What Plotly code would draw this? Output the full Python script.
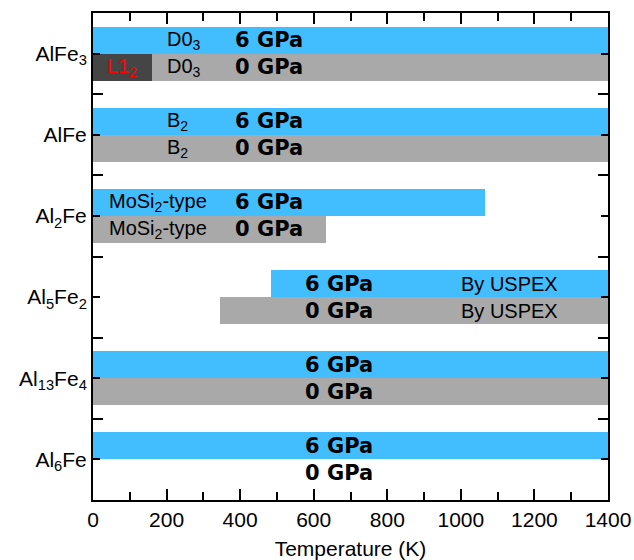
import plotly.graph_objects as go

# ---- data ----
compounds = ["AlFe<sub>3</sub>", "AlFe", "Al<sub>2</sub>Fe", "Al<sub>5</sub>Fe<sub>2</sub>",
             "Al<sub>13</sub>Fe<sub>4</sub>", "Al<sub>6</sub>Fe"]
p6_start = [0, 0, 0, 485, 0, 0]
p6_end = [1400, 1400, 1066, 1400, 1400, 1400]
p0_start = [160, 0, 0, 345, 0, None]
p0_end = [1400, 1400, 634, 1400, 1400, None]
l12_start = [0]
l12_end = [160]
l12_row = [0]
struct6 = ["D0<sub>3</sub>", "B<sub>2</sub>", "MoSi<sub>2</sub>-type", "By USPEX", "", ""]
struct0 = ["D0<sub>3</sub>", "B<sub>2</sub>", "MoSi<sub>2</sub>-type", "By USPEX", "", ""]
struct_x = [197, 197, 39, 996, None, None]
press_x = [479, 479, 479, 670, 670, 670]
x_ticks = [0, 200, 400, 600, 800, 1000, 1200, 1400]

BLUE = "#42BEFF"
GRAY = "#A9A9A9"
DARK = "#454545"
BH = 1 / 3

n = len(compounds)
ypos = [n - 1 - i for i in range(n)]

fig = go.Figure()

# 6 GPa bars (upper half)
fig.add_trace(go.Bar(
    orientation="h",
    y=[y + BH / 2 for y in ypos],
    x=[e - s for s, e in zip(p6_start, p6_end)],
    base=p6_start, width=BH,
    marker=dict(color=BLUE, line=dict(width=0)),
    showlegend=False, hoverinfo="skip"))

# 0 GPa bars (lower half)
y0, x0, b0 = [], [], []
for y, s, e in zip(ypos, p0_start, p0_end):
    if s is None:
        continue
    y0.append(y - BH / 2)
    x0.append(e - s)
    b0.append(s)
fig.add_trace(go.Bar(
    orientation="h", y=y0, x=x0, base=b0, width=BH,
    marker=dict(color=GRAY, line=dict(width=0)),
    showlegend=False, hoverinfo="skip"))

# L1_2 segment
fig.add_trace(go.Bar(
    orientation="h",
    y=[ypos[r] - BH / 2 for r in l12_row],
    x=[e - s for s, e in zip(l12_start, l12_end)],
    base=l12_start, width=BH,
    marker=dict(color=DARK, line=dict(width=0)),
    showlegend=False, hoverinfo="skip"))

ann = []
PF = dict(family="DejaVu Sans", size=21, color="black")
SF = dict(family="Liberation Sans", size=20, color="black")
for i, y in enumerate(ypos):
    ann.append(dict(x=press_x[i], y=y + BH / 2, xref="x", yref="y", text="<b>6 GPa</b>",
                    showarrow=False, font=PF, xanchor="center", yanchor="middle"))
    ann.append(dict(x=press_x[i], y=y - BH / 2, xref="x", yref="y", text="<b>0 GPa</b>",
                    showarrow=False, font=PF, xanchor="center", yanchor="middle"))
    if struct_x[i] is not None:
        ann.append(dict(x=struct_x[i], y=y + BH / 2, xref="x", yref="y", text=struct6[i],
                        showarrow=False, font=SF, xanchor="left", yanchor="middle"))
        ann.append(dict(x=struct_x[i], y=y - BH / 2, xref="x", yref="y", text=struct0[i],
                        showarrow=False, font=SF, xanchor="left", yanchor="middle"))
for r, s, e in zip(l12_row, l12_start, l12_end):
    ann.append(dict(x=(s + e) / 2, y=ypos[r] - BH / 2, xref="x", yref="y",
                    text="L1<sub>2</sub>", showarrow=False,
                    font=dict(family="Liberation Sans", size=20, color="red"),
                    xanchor="center", yanchor="middle"))

fig.update_layout(
    width=634, height=560,
    margin=dict(l=93, r=26, t=13, b=60, autoexpand=False),
    plot_bgcolor="white", paper_bgcolor="white",
    barmode="overlay", bargap=0,
    annotations=ann,
    font=dict(family="Liberation Sans", size=21, color="black"),
)
fig.update_xaxes(
    range=[0, 1400], tickvals=x_ticks, ticks="inside", ticklen=11, tickwidth=2,
    tickcolor="black", showline=True, linewidth=2, linecolor="black", mirror="ticks",
    showgrid=False, zeroline=False, automargin=False,
    minor=dict(dtick=100, tick0=0, ticks="inside", ticklen=8, tickwidth=2,
               tickcolor="black", showgrid=False),
    tickfont=dict(size=21),
    title=dict(text="Temperature (K)", font=dict(size=21)),
)
fig.update_yaxes(
    range=[-0.5, n - 0.5], tickmode="array", tickvals=ypos, ticktext=compounds,
    ticks="inside", ticklen=7, tickwidth=2, tickcolor="black",
    showline=True, linewidth=2, linecolor="black", mirror="ticks",
    showgrid=False, zeroline=False, automargin=False,
    minor=dict(tickmode="array", tickvals=[k + 0.5 for k in range(n - 1)],
               ticks="inside", ticklen=10, tickwidth=2, tickcolor="black", showgrid=False),
    tickfont=dict(size=21),
)

fig.write_html("out.html")
